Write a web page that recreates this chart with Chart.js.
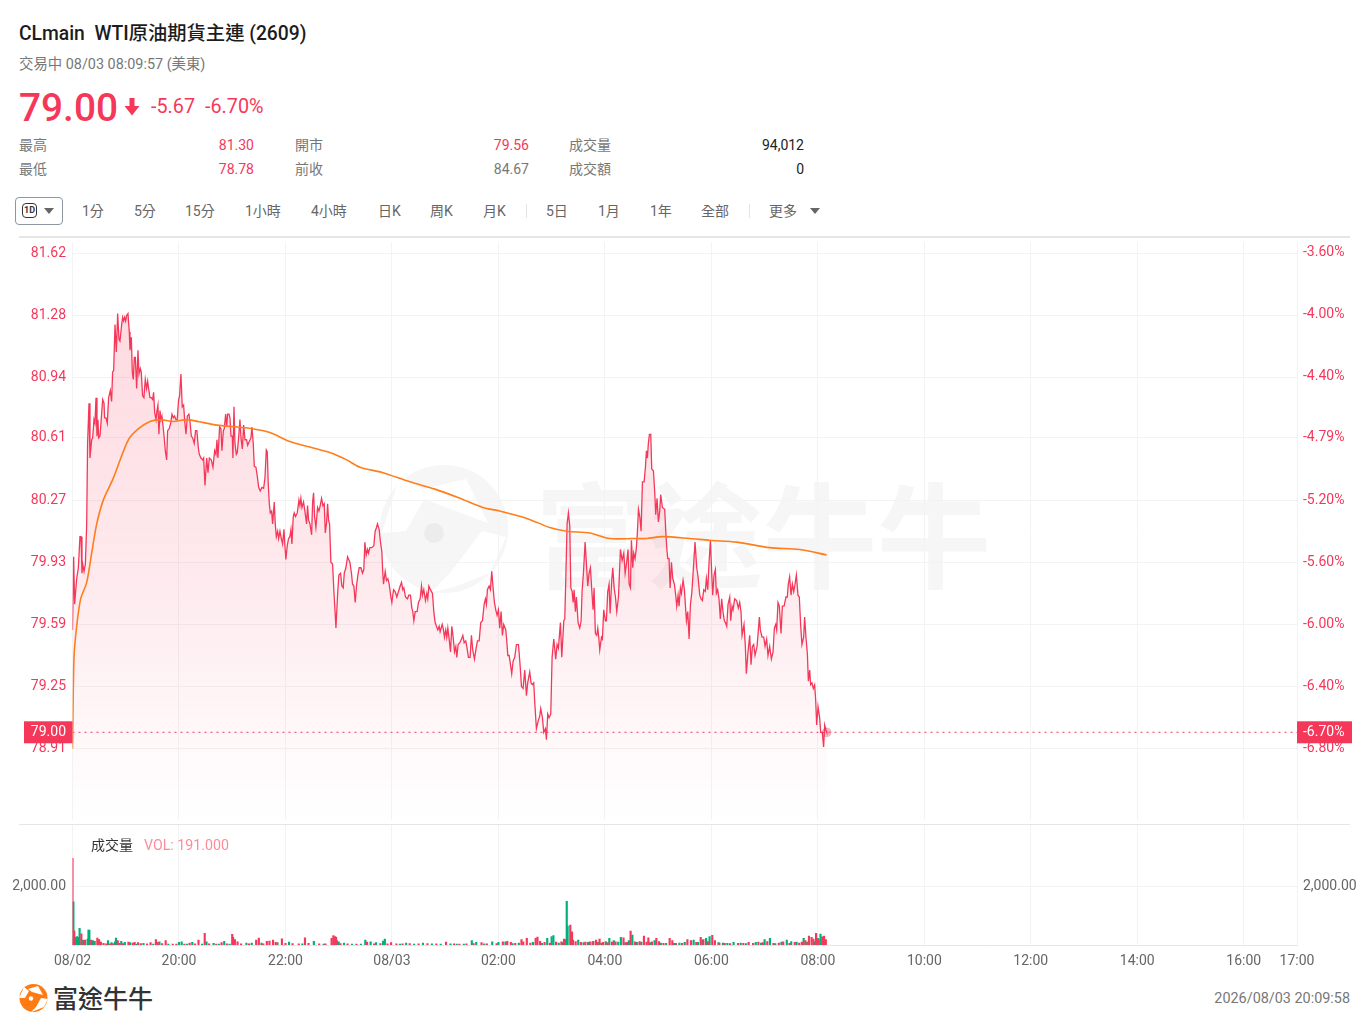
<!DOCTYPE html>
<html lang="zh-Hant">
<head>
<meta charset="utf-8">
<title>CLmain WTI原油期貨主連 (2609)</title>
<script src="https://cdn.jsdelivr.net/npm/chart.js@4"></script>
<style>
  html, body { margin: 0; padding: 0; background: #fff; }
  body { width: 1369px; height: 1031px; position: relative; overflow: hidden; font-family: Roboto, "Noto Sans CJK TC", sans-serif; }
  .t { position: absolute; white-space: pre; line-height: 1; }
  .r { text-align: right; }
  .red { color: #f5385a; }
  .gray { color: #777; font-size: 14px; }
  .tool { color: #666; font-size: 14px; top: 204px; }
  canvas { position: absolute; left: 0; }
  .hline { position: absolute; left: 19px; width: 1331px; height: 1px; background: #e6e6e6; }
  .sep { position: absolute; top: 204px; width: 1px; height: 14px; background: #e4e4e4; }
  .tri { position: absolute; width: 0; height: 0; border-left: 5px solid transparent; border-right: 5px solid transparent; border-top: 6px solid #666; }
</style>
</head>
<body>

<!-- watermark sits under the charts -->
<svg style="position:absolute;left:378px;top:463px" width="135" height="135" viewBox="0 0 135 135">
  <circle cx="66" cy="66" r="64" fill="#f6f6f6"/>
  <path d="M30 30 L88 16 L110 60 L62 42 Z" fill="#fff"/>
  <path d="M4 70 L28 68 L50 30 L22 12 Z" fill="#fff"/>
  <path d="M104 68 L128 74 L112 110 L76 124 L52 130 L72 110 Z" fill="#fff"/>
  <circle cx="56" cy="70" r="10" fill="#ececec"/>
</svg>
<div class="t" style="left:535px;top:473px;font-size:114px;font-weight:700;color:#f6f6f6;font-family:'Noto Sans CJK TC'">富途牛牛</div>

<div class="t" style="left:19px;top:24px;font-size:19.3px;font-weight:500;color:#1c1c1c">CLmain  WTI原油期貨主連 (2609)</div>
<div class="t" style="left:19px;top:58px;font-size:14.4px;color:#777">交易中 08/03 08:09:57 (美東)</div>
<div class="t red" style="left:19px;top:89px;font-size:38.8px;font-weight:500">79.00</div>
<svg style="position:absolute;left:124px;top:97px" width="16" height="20" viewBox="0 0 16 20"><path d="M5.5 1 H10.5 V9 H15.5 L8 18.5 L0.5 9 H5.5 Z" fill="#f5385a"/></svg>
<div class="t red" style="left:151px;top:97px;font-size:19.8px">-5.67</div>
<div class="t red" style="left:205px;top:97px;font-size:19.8px">-6.70%</div>

<div class="t gray" style="left:19px;top:138px">最高</div>
<div class="t red r" style="left:154px;width:100px;top:138px;font-size:14px">81.30</div>
<div class="t gray" style="left:295px;top:138px">開市</div>
<div class="t red r" style="left:429px;width:100px;top:138px;font-size:14px">79.56</div>
<div class="t gray" style="left:569px;top:138px">成交量</div>
<div class="t r" style="left:704px;width:100px;top:138px;font-size:14px;color:#222">94,012</div>
<div class="t gray" style="left:19px;top:162px">最低</div>
<div class="t red r" style="left:154px;width:100px;top:162px;font-size:14px">78.78</div>
<div class="t gray" style="left:295px;top:162px">前收</div>
<div class="t r" style="left:429px;width:100px;top:162px;font-size:14px;color:#777">84.67</div>
<div class="t gray" style="left:569px;top:162px">成交額</div>
<div class="t r" style="left:704px;width:100px;top:162px;font-size:14px;color:#222">0</div>

<div style="position:absolute;left:15px;top:197px;width:46px;height:26px;border:1px solid #8d96a3;border-radius:4px"></div>
<div class="t" style="left:22px;top:203px;width:13px;height:13px;border:1.5px solid #333;border-radius:4px;font-size:9px;font-weight:700;color:#333;text-align:center;line-height:13px">1D</div>
<div class="tri" style="left:44px;top:208px"></div>
<div class="t tool" style="left:82px">1分</div>
<div class="t tool" style="left:134px">5分</div>
<div class="t tool" style="left:185px">15分</div>
<div class="t tool" style="left:245px">1小時</div>
<div class="t tool" style="left:311px">4小時</div>
<div class="t tool" style="left:378px">日K</div>
<div class="t tool" style="left:430px">周K</div>
<div class="t tool" style="left:483px">月K</div>
<div class="sep" style="left:526px"></div>
<div class="t tool" style="left:546px">5日</div>
<div class="t tool" style="left:598px">1月</div>
<div class="t tool" style="left:650px">1年</div>
<div class="t tool" style="left:701px">全部</div>
<div class="sep" style="left:749px"></div>
<div class="t tool" style="left:769px">更多</div>
<div class="tri" style="left:810px;top:208px"></div>

<div class="hline" style="top:236px;height:2px"></div>
<div class="hline" style="top:824px"></div>

<canvas id="priceChart" width="1369" height="588" style="top:237px;width:1369px;height:588px"></canvas>
<canvas id="volChart" width="1369" height="150" style="top:825px;width:1369px;height:150px"></canvas>

<div class="t" style="left:91px;top:838px;font-size:14px;color:#333">成交量</div>
<div class="t" style="left:144px;top:838px;font-size:14.2px;color:#ff8a98">VOL: 191.000</div>

<svg style="position:absolute;left:19px;top:983px" width="30" height="30" viewBox="0 0 30 30">
  <circle cx="14.5" cy="15" r="14" fill="#ff7a12"/>
  <path d="M9 6 L19 3 L24 12 L13 9 Z" fill="#fff"/>
  <path d="M0 15 L6 15 L10 8 L5 4 Z" fill="#fff"/>
  <path d="M22 15 L29 16 L25 24 L15 28 L12 29 L17 24 Z" fill="#fff"/>
  <circle cx="12" cy="15.5" r="2.2" fill="#fff"/>
</svg>
<div class="t" style="left:53px;top:985px;font-size:25px;font-weight:500;color:#333;font-family:'Noto Sans CJK TC'">富途牛牛</div>
<div class="t r" style="left:1150px;width:200px;top:992px;font-size:14.4px;color:#777">2026/08/03 20:09:58</div>

<script>
// axes
const prevClose = 84.67
const priceTicks = [81.62, 81.28, 80.94, 80.61, 80.27, 79.93, 79.59, 79.25, 78.91]
const pctTicks = [-3.60, -4.00, -4.40, -4.79, -5.20, -5.60, -6.00, -6.40, -6.80]
const timeTicks = [0, 120, 240, 360, 480, 600, 720, 840, 960, 1080, 1200, 1320, 1380]
const timeLabels = ['08/02', '20:00', '22:00', '08/03', '02:00', '04:00', '06:00', '08:00', '10:00', '12:00', '14:00', '16:00', '17:00']
const volTicks = [2000]
const lastPrice = 79.00
const lastPct = -6.70
const lastMinute = 850

// minutes after 18:00 / price
const priceMinutes = [
  0, 1.3, 2.4, 4.7, 6.6, 8.4, 9.6, 10.7, 11.5, 13, 14.5, 16, 17, 18.6, 19.7, 21.6, 22.7, 24.2, 25.3, 26.5, 27.6, 28.7, 29.5, 31, 32.5, 34, 35.5, 36.2, 37.7, 39.2,
  40.7, 42.6, 44.1, 45.2, 46.4, 47.9, 49.4, 50.9, 52.4, 53.5, 55.4, 56.5, 57.6, 58.8, 59.9, 61, 62.5, 64, 64.8, 66.3, 67.4, 68.5, 69.7, 70.8, 72.3, 73.8, 74.9, 76.4, 77.5, 79,
  80.5, 82, 83.5, 84.7, 85.8, 87.3, 88.8, 90.3, 91.4, 92.6, 94.1, 95.2, 96.3, 97.4, 98.6, 99.7, 100.8, 103, 104.6, 106.1, 107.2, 109, 110.6, 112.1, 113.6, 115, 116.6, 118, 119.6, 120.7,
  122.2, 123.7, 125.2, 126.7, 127.9, 129.4, 131.2, 132.4, 133.9, 135.4, 137.2, 138.7, 140.2, 141.7, 142.9, 144.8, 146.7, 147.8, 149.3, 151.2, 152.7, 154.2, 156.4, 158.3, 160.2, 161.7, 162.8, 163.9, 165.8, 167.3,
  168.4, 170, 171, 172.6, 173.7, 174.8, 176.3, 177.5, 178.6, 180.1, 180.8, 182, 183.1, 184.6, 185.7, 187.2, 188.7, 189.9, 191.4, 192.9, 194.4, 196.2, 197.4, 199.2, 201.1, 202.2, 203.7, 204.9, 206.7, 208.3,
  209.8, 211.6, 213.5, 215.4, 216.9, 218.4, 219.5, 220.6, 221.8, 222.9, 224.4, 225.5, 227.4, 228.5, 229.7, 231.2, 232.3, 233.8, 235.3, 236.8, 238.3, 239.4, 240.5, 242, 243.5, 245, 246.2, 247.3, 248.8, 249.9,
  251.4, 253.3, 255.2, 256.3, 257.4, 258.6, 260.4, 261.9, 263.8, 264.9, 266.1, 267.6, 269.5, 270.6, 271.7, 272.8, 274.3, 276.2, 277.7, 279.2, 280.7, 282.2, 283.7, 284.9, 286.4, 287.5, 288.6, 289.7, 291.2, 293.1,
  294.6, 295.7, 296.9, 298.7, 300.2, 302.1, 303.6, 305.1, 306.3, 308.1, 310, 312.6, 314.4, 315.6, 317.1, 318.6, 320.1, 321.6, 323.1, 325, 326.8, 328.3, 329.5, 331, 332.5, 333.6, 335.1, 337.3, 339.6, 341.1,
  342.6, 343.7, 345.6, 347.1, 348.6, 349.7, 350.5, 352.4, 353.9, 355.4, 356.9, 358.8, 359.9, 361.8, 363.6, 365.5, 367.4, 369.3, 370.8, 372.3, 373.4, 375.3, 377.5, 379, 380.9, 382.4, 383.5, 384.7, 386.2, 388.4,
  389.9, 391.8, 393.3, 394.4, 395.9, 397.8, 399.3, 400.4, 401.6, 403.4, 405.7, 407.2, 408.7, 410.2, 411.7, 413.2, 414.3, 416.6, 418.1, 419.2, 420.7, 421.8, 423, 424.5, 426, 427.5, 429, 430.5, 432, 433.1,
  434.6, 436.5, 438.4, 439.9, 441.4, 443.2, 444.7, 446.2, 448.1, 449.6, 451.1, 453, 454.9, 456.4, 458.3, 460.1, 462, 463.9, 465.4, 466.5, 467.6, 469.5, 471, 472.5, 474, 475.5, 477, 478.5, 480, 481.5,
  483, 484.5, 486, 488.3, 489.4, 490.6, 492.1, 493.6, 495, 496.6, 498.4, 500.3, 502.6, 504.4, 506, 507.8, 509.7, 511.6, 513, 515.3, 516.8, 518.3, 519.8, 521, 522.8, 524.7, 526.6, 527.7, 529.6, 531.1,
  533, 534.1, 535.6, 537.1, 539, 540.5, 542.4, 544.6, 546.1, 547.6, 549.9, 551.4, 553.7, 554.8, 555.9, 557.4, 558.9, 560.4, 561.6, 563.1, 564.2, 565.3, 566.8, 567.9, 569.8, 571.7, 573.2, 574.3, 575.8, 577.7,
  579.2, 580.7, 582.2, 583.7, 585.2, 586.7, 587.8, 589.3, 590.8, 592, 593.1, 594.2, 596.1, 597.2, 598.7, 600.6, 601.7, 603.2, 604.7, 605.9, 607.7, 608.9, 610.4, 611.9, 613.4, 615.3, 617.5, 619.4, 621.3, 622.8,
  624.3, 626.1, 627.3, 628.8, 629.9, 631.4, 632.5, 634, 635.5, 636.7, 637.8, 639.3, 640.8, 642.3, 644.2, 645.7, 646.8, 647.9, 649, 650.2, 651.7, 652.8, 654.7, 656.2, 657.3, 658.8, 660.3, 661.8, 662.9, 664.8,
  667.4, 668.6, 669.7, 670.8, 672.3, 673.5, 675, 676.5, 678.3, 679.8, 681, 682.5, 683.6, 685.1, 686.2, 688.1, 689.6, 691.9, 693.4, 694.9, 696.4, 697.9, 699.4, 701.6, 703.5, 705, 706.9, 708.4, 709.9, 711.4,
  713.2, 714.4, 715.9, 717.4, 718.9, 720.4, 721.5, 723, 724.5, 725.6, 727.1, 728.6, 730.1, 731.6, 733.1, 734.6, 735.8, 737.3, 738.8, 740.7, 741.8, 743.3, 744.4, 746.3, 748.5, 750.4, 751.9, 753.4, 754.6, 756.8,
  758.3, 759.4, 761.3, 763.2, 764.7, 766.2, 767.7, 769.2, 771.5, 774.1, 775.2, 777.1, 779, 780.5, 782.3, 783.8, 785.7, 787.6, 789.5, 791, 792.5, 793.6, 795.1, 796.6, 798.5, 800, 801.9, 804.1, 805.6, 806.7,
  808.2, 809.8, 811.3, 812.8, 814.3, 815.8, 817.6, 819.1, 820.6, 822.1, 824, 825.1, 826.6, 828.2, 829.3, 830.8, 831.9, 833.4, 834.9, 836.4, 837.5, 838.7, 840.2, 842, 843.2, 845, 846.5, 847.7, 849.2, 850
]
const prices = [
  79.56, 79.96, 79.70, 79.84, 79.90, 80.07, 80.07, 79.87, 79.92, 79.88, 79.92, 80.14, 80.58, 80.80, 80.50, 80.60, 80.61, 80.71, 80.69, 80.83, 80.62, 80.71, 80.61, 80.62, 80.72, 80.82, 80.80, 80.72, 80.72, 80.69,
  80.83, 80.87, 80.81, 80.97, 80.98, 81.23, 81.08, 81.29, 81.15, 81.14, 81.23, 81.27, 81.25, 81.27, 81.25, 81.28, 81.29, 81.19, 81.09, 81.16, 80.97, 80.93, 81.05, 81.05, 80.88, 81.09, 80.96, 80.99, 80.97, 80.84,
  80.83, 80.93, 80.88, 80.92, 80.88, 80.83, 80.83, 80.82, 80.86, 80.75, 80.71, 80.76, 80.79, 80.63, 80.76, 80.71, 80.73, 80.63, 80.54, 80.49, 80.65, 80.66, 80.69, 80.74, 80.72, 80.73, 80.71, 80.71, 80.82, 80.84,
  80.96, 80.78, 80.79, 80.69, 80.63, 80.73, 80.74, 80.70, 80.62, 80.61, 80.58, 80.65, 80.65, 80.56, 80.52, 80.50, 80.49, 80.50, 80.35, 80.50, 80.42, 80.50, 80.49, 80.45, 80.54, 80.52, 80.60, 80.50, 80.67, 80.66,
  80.54, 80.65, 80.66, 80.74, 80.67, 80.74, 80.74, 80.72, 80.62, 80.62, 80.50, 80.78, 80.58, 80.52, 80.53, 80.61, 80.71, 80.61, 80.55, 80.68, 80.60, 80.60, 80.57, 80.59, 80.61, 80.67, 80.58, 80.455, 80.45, 80.40,
  80.34, 80.32, 80.34, 80.335, 80.39, 80.545, 80.535, 80.36, 80.25, 80.20, 80.21, 80.14, 80.26, 80.14, 80.07, 80.10, 80.06, 80.10, 80.06, 80.03, 80.11, 80.02, 79.945, 80.02, 80.06, 80.07, 80.11, 80.03, 80.18, 80.20,
  80.18, 80.20, 80.27, 80.24, 80.28, 80.23, 80.26, 80.21, 80.14, 80.24, 80.16, 80.14, 80.08, 80.26, 80.31, 80.18, 80.12, 80.23, 80.21, 80.24, 80.28, 80.24, 80.25, 80.09, 80.15, 80.25, 80.16, 80.14, 79.93, 79.92,
  79.77, 79.68, 79.57, 79.75, 79.86, 79.87, 79.80, 79.79, 79.87, 79.90, 79.96, 79.93, 79.87, 79.81, 79.80, 79.71, 79.80, 79.86, 79.90, 79.90, 79.87, 79.89, 80.04, 79.97, 80.00, 79.98, 80.01, 80.01, 80.02, 80.10,
  80.12, 80.14, 80.11, 80.04, 79.99, 79.87, 79.81, 79.88, 79.83, 79.84, 79.81, 79.74, 79.71, 79.78, 79.77, 79.74, 79.77, 79.80, 79.82, 79.78, 79.79, 79.74, 79.73, 79.75, 79.75, 79.68, 79.66, 79.61, 79.66, 79.66,
  79.71, 79.73, 79.80, 79.75, 79.78, 79.72, 79.76, 79.73, 79.80, 79.78, 79.76, 79.66, 79.60, 79.58, 79.56, 79.58, 79.55, 79.59, 79.56, 79.52, 79.56, 79.52, 79.57, 79.51, 79.44, 79.58, 79.52, 79.44, 79.47, 79.41,
  79.48, 79.49, 79.51, 79.53, 79.49, 79.50, 79.46, 79.41, 79.41, 79.53, 79.45, 79.40, 79.46, 79.50, 79.50, 79.60, 79.61, 79.70, 79.73, 79.70, 79.78, 79.80, 79.78, 79.88, 79.79, 79.71, 79.67, 79.64, 79.67, 79.57,
  79.66, 79.53, 79.59, 79.56, 79.50, 79.42, 79.42, 79.37, 79.32, 79.39, 79.41, 79.48, 79.48, 79.37, 79.25, 79.24, 79.34, 79.20, 79.27, 79.33, 79.27, 79.26, 79.27, 79.16, 79.02, 79.06, 79.09, 79.13, 79.08, 79.00,
  79.02, 78.96, 79.10, 79.08, 79.10, 79.41, 79.51, 79.40, 79.48, 79.46, 79.60, 79.41, 79.61, 79.62, 79.83, 80.14, 80.20, 80.13, 79.79, 79.77, 79.71, 79.78, 79.66, 79.74, 79.60, 79.57, 79.61, 79.77, 79.87, 80.04,
  79.92, 79.80, 79.87, 79.90, 79.78, 79.67, 79.79, 79.54, 79.53, 79.57, 79.52, 79.45, 79.52, 79.51, 79.67, 79.61, 79.61, 79.77, 79.81, 79.65, 79.83, 79.90, 79.79, 79.74, 79.66, 79.74, 80.00, 79.94, 79.98, 79.87,
  79.92, 80.00, 79.81, 79.79, 80.05, 79.90, 79.98, 79.95, 80.01, 80.10, 80.22, 80.18, 80.10, 80.37, 80.37, 80.45, 80.54, 80.50, 80.58, 80.63, 80.63, 80.44, 80.43, 80.31, 80.19, 80.28, 80.15, 80.21, 80.30, 80.23,
  80.22, 80.10, 80.01, 79.95, 79.95, 79.79, 79.93, 79.84, 79.81, 79.75, 79.69, 79.75, 79.69, 79.79, 79.76, 79.83, 79.78, 79.61, 79.66, 79.51, 79.70, 79.76, 79.87, 80.04, 79.90, 79.85, 79.75, 79.73, 79.72, 79.78,
  79.77, 79.84, 79.78, 79.93, 80.05, 79.87, 79.75, 79.86, 79.89, 79.76, 79.78, 79.73, 79.62, 79.73, 79.66, 79.61, 79.60, 79.58, 79.70, 79.74, 79.61, 79.69, 79.67, 79.73, 79.72, 79.68, 79.71, 79.66, 79.53, 79.59,
  79.47, 79.32, 79.44, 79.53, 79.37, 79.47, 79.48, 79.42, 79.47, 79.63, 79.56, 79.52, 79.52, 79.47, 79.51, 79.42, 79.47, 79.40, 79.44, 79.57, 79.59, 79.56, 79.71, 79.69, 79.54, 79.69, 79.69, 79.74, 79.74, 79.81,
  79.85, 79.75, 79.81, 79.77, 79.81, 79.86, 79.75, 79.74, 79.59, 79.48, 79.52, 79.63, 79.52, 79.43, 79.28, 79.34, 79.26, 79.27, 79.24, 79.26, 79.18, 79.04, 79.14, 79.08, 79.00, 79.00, 78.92, 79.04, 79.01, 79.00
]

// orange average line
const avgMinutes = [0, 1.7, 4.7, 9.2, 16, 21.6, 27.3, 34.7, 46, 62.9, 74.1, 87.3, 98.6, 113.2, 129, 141.4, 162.8, 185.3, 203.3, 222.5, 245, 267.5, 290, 309, 323.9, 349.8, 380.2, 408.4, 436.5, 462.4, 481.6, 512, 537.9, 557, 583, 605.5, 631.4, 647, 665, 695.6, 718, 748.6, 785.8, 819.6, 850]
const avgPrices = [78.91, 79.41, 79.58, 79.73, 79.82, 79.98, 80.14, 80.27, 80.39, 80.60, 80.66, 80.70, 80.71, 80.70, 80.71, 80.70, 80.68, 80.67, 80.66, 80.64, 80.59, 80.56, 80.53, 80.49, 80.45, 80.42, 80.37, 80.33, 80.28, 80.23, 80.21, 80.17, 80.12, 80.10, 80.09, 80.06, 80.06, 80.06, 80.07, 80.06, 80.05, 80.04, 80.01, 80.00, 79.97]

// volume bars, split by side
const redMinutes = [0, 2, 10, 14, 21, 28, 30, 32, 35, 38, 42, 46, 51, 53, 57, 63, 68, 70, 74, 77, 84, 88, 94, 96, 101, 105, 113, 117, 126, 132, 138, 142, 149, 154, 162, 168, 174, 180, 183, 186, 190, 199, 207, 210, 215, 219, 222, 226, 229, 236, 240, 248, 255, 262, 266, 278, 285, 292, 294, 296, 297, 302, 310, 320, 332, 340, 347, 355, 359, 365, 372, 380, 390, 400, 410, 421,
  430, 436, 444, 452, 461, 467, 478, 485, 490, 494, 499, 506, 508, 512, 516, 522, 524, 527, 532, 538, 545, 551, 554, 561, 563, 564, 567, 573, 578, 583, 587, 590, 594, 598, 603, 608, 612, 621, 625, 629, 634, 639, 644, 647, 649, 653, 658, 661, 666, 673, 676, 680, 687, 693, 697, 703, 708, 711, 716, 721, 724, 729, 735, 741, 750, 756, 762, 767, 773, 778, 783, 790, 796, 801, 808, 814, 819, 822, 826, 830, 833, 835, 838, 841, 845, 847, 849]
const redVolumes = [2970, 490, 380, 170, 170, 240, 190, 100, 60, 40, 40, 50, 150, 60, 50, 100, 70, 90, 80, 50, 40, 80, 190, 90, 50, 150, 30, 30, 30, 70, 40, 170, 400, 40, 30, 80, 40, 365, 190, 110, 40, 40, 170, 240, 40, 125, 135, 170, 90, 215, 60, 50, 40, 250, 60, 40, 40, 230, 320, 285, 260, 50, 40, 30, 100, 40, 50, 40, 80, 40, 40, 50, 40, 50, 40, 100,
  40, 30, 40, 50, 80, 40, 50, 110, 130, 90, 60, 190, 110, 230, 70, 230, 275, 130, 90, 70, 100, 110, 200, 680, 450, 170, 120, 90, 100, 110, 130, 170, 205, 90, 80, 100, 110, 250, 90, 480, 110, 120, 310, 100, 250, 110, 230, 120, 60, 230, 150, 60, 60, 190, 150, 90, 260, 190, 120, 330, 150, 70, 60, 50, 60, 60, 90, 60, 100, 80, 120, 60, 70, 110, 60, 90, 70, 100, 150, 310, 260, 200, 400, 180, 280, 310, 190]
const greenMinutes = [1, 4, 5, 7, 8, 12, 17, 18, 19, 23, 25, 40, 44, 48, 49, 55, 59, 65, 72, 80, 91, 98, 108, 120, 123, 129, 135, 146, 151, 159, 165, 171, 177, 181, 196, 202, 213, 231, 244, 259, 272, 283, 298, 300, 306, 315, 325, 330, 336, 342, 350, 352, 369, 376, 385, 395, 405, 415,
  426, 433, 441, 450, 455, 464, 473, 480, 488, 496, 503, 519, 529, 535, 540, 542, 548, 552, 555, 557, 558, 570, 576, 581, 586, 592, 596, 601, 605, 610, 615, 618, 623, 627, 631, 636, 641, 651, 656, 663, 669, 678, 684, 690, 700, 705, 710, 714, 718, 728, 733, 738, 745, 753, 759, 770, 776, 780, 786, 792, 799, 805, 810, 816, 824, 828, 836, 840, 843, 848]
const greenVolumes = [1480, 260, 285, 260, 570, 170, 200, 510, 510, 150, 130, 150, 80, 110, 240, 125, 90, 80, 30, 55, 30, 110, 35, 90, 110, 30, 90, 30, 110, 60, 30, 130, 30, 260, 70, 70, 70, 80, 100, 40, 125, 30, 150, 110, 70, 30, 30, 170, 110, 80, 135, 205, 30, 70, 30, 70, 40, 30,
  40, 30, 30, 150, 90, 40, 110, 90, 110, 50, 70, 90, 60, 230, 285, 320, 70, 80, 190, 1500, 650, 170, 80, 90, 110, 90, 70, 120, 230, 150, 100, 260, 80, 150, 340, 90, 100, 80, 150, 70, 60, 60, 70, 90, 170, 90, 170, 230, 285, 80, 70, 60, 90, 70, 50, 90, 70, 190, 230, 50, 100, 170, 120, 100, 230, 100, 110, 230, 375, 130]

const red = '#f5385a'
const green = '#00b07a'
const textGray = '#666'
const gridColor = '#f3f3f3'

Chart.defaults.font.family = 'Roboto, "Noto Sans CJK TC", sans-serif'
Chart.defaults.font.size = 14

const pairs = (xs, ys) => xs.map((x, i) => ({x: x, y: ys[i]}))
const toPct = (p) => (p - prevClose) / prevClose * 100
const setTicks = (values) => (scale) => { scale.ticks = values.map(v => ({value: v})) }
// keep the plot area flush with the canvas, labels may overhang
const fitY = (w) => (scale) => { scale.width = w; scale.paddingTop = 0; scale.paddingBottom = 0 }
const fitX = (h) => (scale) => { scale.height = h; scale.paddingLeft = 0; scale.paddingRight = 0 }

const priceMin = 78.523
const priceMax = 81.679

function areaFill(context) {
  const area = context.chart.chartArea
  if (!area) return 'rgba(245,56,90,0.1)'
  const g = context.chart.ctx.createLinearGradient(0, 70, 0, area.bottom)
  g.addColorStop(0, 'rgba(245,56,90,0.19)')
  g.addColorStop(0.55, 'rgba(245,56,90,0.1)')
  g.addColorStop(1, 'rgba(245,56,90,0)')
  return g
}

// the red price tags on both axes
const lastTagPlugin = {
  id: 'lastTag',
  afterDraw(chart) {
    const ctx = chart.ctx
    const y = chart.scales.y.getPixelForValue(lastPrice)
    const area = chart.chartArea
    ctx.save()
    ctx.font = '14px Roboto'
    ctx.textBaseline = 'middle'
    ctx.fillStyle = red
    ctx.fillRect(24, y - 11, area.left - 24, 22)
    ctx.fillRect(area.right, y - 11, 55, 22)
    ctx.fillStyle = '#fff'
    ctx.textAlign = 'right'
    ctx.fillText(lastPrice.toFixed(2), area.left - 6.5, y + 0.5)
    ctx.textAlign = 'left'
    ctx.fillText(lastPct.toFixed(2) + '%', area.right + 6, y + 0.5)
    ctx.restore()
  }
}

new Chart(document.getElementById('priceChart'), {
  type: 'line',
  plugins: [lastTagPlugin],
  data: {
    datasets: [
      {
        label: 'last',
        data: [{x: lastMinute, y: lastPrice}],
        showLine: false,
        pointRadius: 4.5,
        backgroundColor: 'rgba(245,56,90,0.35)',
        order: 0
      },
      {
        label: 'avg',
        data: pairs(avgMinutes, avgPrices),
        borderColor: '#ff7d1a',
        borderWidth: 1.6,
        pointRadius: 0,
        tension: 0.3,
        order: 1
      },
      {
        label: 'price',
        data: pairs(priceMinutes, prices),
        borderColor: red,
        borderWidth: 1.3,
        pointRadius: 0,
        tension: 0,
        fill: 'start',
        backgroundColor: areaFill,
        order: 2
      },
      {
        label: 'lastLine',
        data: [{x: timeTicks[0], y: lastPrice}, {x: timeTicks[timeTicks.length - 1], y: lastPrice}],
        borderColor: red,
        borderWidth: 1,
        borderDash: [2, 4],
        pointRadius: 0,
        order: 3
      }
    ]
  },
  options: {
    responsive: false,
    animation: false,
    layout: {padding: 0},
    plugins: {legend: {display: false}, tooltip: {enabled: false}},
    scales: {
      x: {
        type: 'linear',
        min: 0,
        max: 1380,
        afterBuildTicks: setTicks(timeTicks),
        afterFit: fitX(0),
        ticks: {display: false},
        border: {display: false},
        grid: {color: gridColor, drawTicks: false}
      },
      y: {
        min: priceMin,
        max: priceMax,
        afterBuildTicks: setTicks(priceTicks),
        afterFit: fitY(72.5),
        ticks: {color: red, padding: 6.5, callback: (v) => v.toFixed(2)},
        border: {display: false},
        grid: {color: gridColor, drawTicks: false}
      },
      y2: {
        position: 'right',
        min: toPct(priceMin),
        max: toPct(priceMax),
        afterBuildTicks: setTicks(pctTicks),
        afterFit: fitY(72),
        ticks: {color: red, padding: 6, callback: (v) => v.toFixed(2) + '%'},
        border: {display: false},
        grid: {display: false, drawTicks: false}
      }
    }
  }
})

new Chart(document.getElementById('volChart'), {
  type: 'bar',
  data: {
    datasets: [
      {label: 'up', data: pairs(redMinutes, redVolumes), backgroundColor: red, barThickness: 1.5, grouped: false},
      {label: 'down', data: pairs(greenMinutes, greenVolumes), backgroundColor: green, barThickness: 1.5, grouped: false}
    ]
  },
  options: {
    responsive: false,
    animation: false,
    layout: {padding: 0},
    plugins: {legend: {display: false}, tooltip: {enabled: false}},
    scales: {
      x: {
        type: 'linear',
        offset: false,
        min: 0,
        max: 1380,
        afterBuildTicks: setTicks(timeTicks),
        afterFit: fitX(30),
        ticks: {
          color: textGray,
          padding: 8,
          autoSkip: false,
          maxRotation: 0,
          callback: (v) => timeLabels[timeTicks.indexOf(v)]
        },
        border: {display: true, color: '#e6e6e6'},
        grid: {color: gridColor, drawTicks: false, offset: false}
      },
      y: {
        min: 0,
        max: 4116,
        afterBuildTicks: setTicks(volTicks),
        afterFit: fitY(72.5),
        ticks: {color: textGray, padding: 6.5, callback: (v) => v.toLocaleString('en-US', {minimumFractionDigits: 2})},
        border: {display: false},
        grid: {color: gridColor, drawTicks: false}
      },
      y2: {
        position: 'right',
        min: 0,
        max: 4116,
        afterBuildTicks: setTicks(volTicks),
        afterFit: fitY(72),
        ticks: {color: textGray, padding: 6, callback: (v) => v.toLocaleString('en-US', {minimumFractionDigits: 2})},
        border: {display: false},
        grid: {display: false, drawTicks: false}
      }
    }
  }
})
</script>
</body>
</html>
